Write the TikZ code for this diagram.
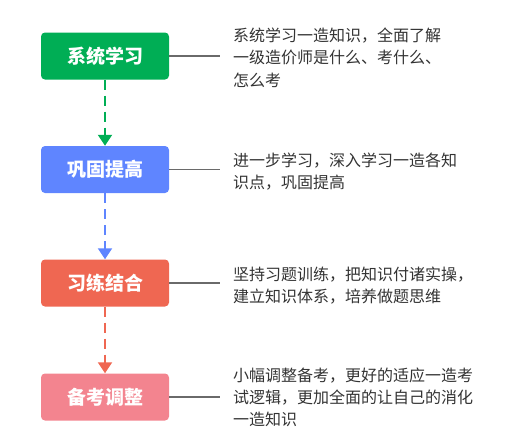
\documentclass[tikz,border=0pt]{standalone}
\usepackage{fontspec}
\newfontfamily\cjk{Noto Sans CJK SC}
\usetikzlibrary{calc}
\usetikzlibrary{arrows.meta}

\definecolor{verde}{HTML}{00AE55}
\definecolor{azul}{HTML}{5F85FF}
\definecolor{vermelho}{HTML}{EF6752}
\definecolor{rosa}{HTML}{F3848F}
\definecolor{cinza}{HTML}{6A6A6A}
\definecolor{texto}{HTML}{333333}

\begin{document}
\begin{tikzpicture}[x=1pt,y=-1pt,
	etapa/.style={rounded corners=4pt,minimum width=128pt,minimum height=47pt,
		text=white,font={\cjk\bfseries\fontsize{19}{19}\selectfont}},
	descricao/.style={anchor=west,inner sep=0pt,align=left,text=texto,
		font={\cjk\fontsize{16}{22.3}\selectfont}},
	seta/.style={line width=2pt,dash pattern=on 10pt off 6pt,
		-{Triangle[length=11pt,width=14pt]}},
	ligacao/.style={cinza,line width=1.3pt}]
	
	% A moldura
	\useasboundingbox (0,0) rectangle (525,440);
	
	% As etapas
	\node [etapa,fill=verde] (sistema) at (105,56) {系统学习};
	\node [etapa,fill=azul] (reforco) at (105,169.5) {巩固提高};
	\node [etapa,fill=vermelho] (pratica) at (105,283) {习练结合};
	\node [etapa,fill=rosa] (ajuste) at (105,397) {备考调整};
	
	% As setas
	\draw [seta,verde] (sistema.south) -- (reforco.north);
	\draw [seta,azul] (reforco.south) -- (pratica.north);
	\draw [seta,vermelho] (pratica.south) -- (ajuste.north);
	
	% Os pontos finais das ligações
	\coordinate (fim1) at (220,56);
	\coordinate (fim2) at (220,169.5);
	\coordinate (fim3) at (220,283);
	\coordinate (fim4) at (220,397);
	
	% As ligações
	\draw [ligacao] (sistema.east) -- (fim1);
	\draw [ligacao] (reforco.east) -- (fim2);
	\draw [ligacao] (pratica.east) -- (fim3);
	\draw [ligacao] (ajuste.east) -- (fim4);
	
	% As descrições
	\node [descricao] (desc1) at (233,57.5) {系统学习一造知识，全面了解\\一级造价师是什么、考什么、\\怎么考};
	\node [descricao] (desc2) at (233,171.5) {进一步学习，深入学习一造各知\\识点，巩固提高};
	\node [descricao] (desc3) at (233,285.5) {坚持习题训练，把知识付诸实操，\\建立知识体系，培养做题思维};
	\node [descricao] (desc4) at (233,397.5) {小幅调整备考，更好的适应一造考\\试逻辑，更加全面的让自己的消化\\一造知识};
	
\end{tikzpicture}
\end{document}
